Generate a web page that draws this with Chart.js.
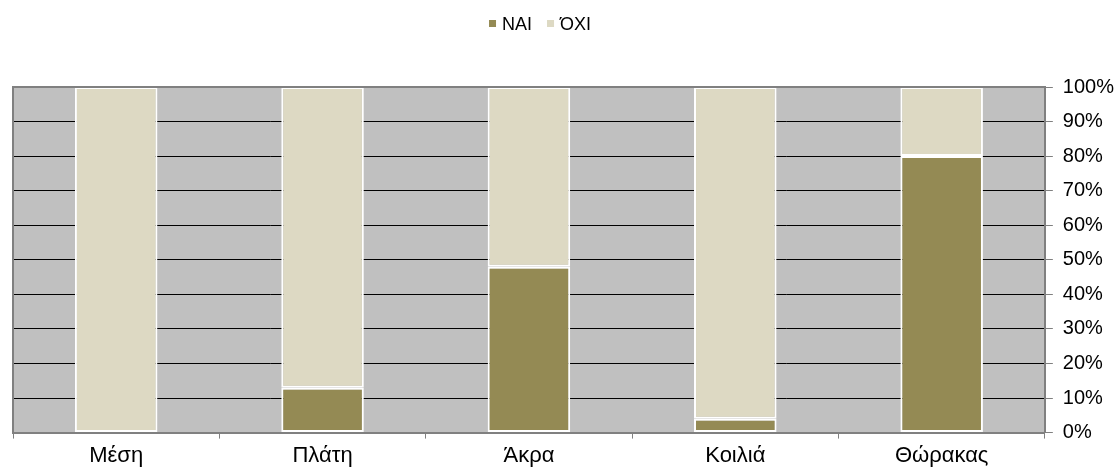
<!DOCTYPE html>
<html>
<head>
<meta charset="utf-8">
<script src="https://cdn.jsdelivr.net/npm/chart.js@4.4.0/dist/chart.umd.min.js"></script>
<style>
html,body{margin:0;padding:0;background:#fff;}
#wrap{width:1116px;height:467px;position:relative;}
</style>
</head>
<body>
<div id="wrap"><canvas id="c" width="1116" height="467"></canvas></div>
<script>
const categories = ['Μέση', 'Πλάτη', 'Άκρα', 'Κοιλιά', 'Θώρακας'];
const naiValues = [0, 13, 48, 4, 80];
const oxiValues = [100, 87, 52, 96, 20];
const seriesNames = ['ΝΑΙ', 'ΌΧΙ'];
const yTicks = [0, 10, 20, 30, 40, 50, 60, 70, 80, 90, 100];

const FAMILY = 'Arial, "Liberation Sans", sans-serif';

const plotBg = {
  id: 'plotBg',
  beforeDraw(chart) {
    const {ctx, chartArea: a} = chart;
    ctx.save();
    ctx.fillStyle = '#C0C0C0';
    ctx.fillRect(a.left, a.top, a.right - a.left, a.bottom - a.top);
    ctx.restore();
  },
  afterDatasetsDraw(chart) {
    const {ctx, chartArea: a} = chart;
    ctx.save();
    ctx.strokeStyle = '#808080';
    ctx.lineWidth = 2;
    ctx.beginPath();
    ctx.moveTo(a.left, a.bottom);
    ctx.lineTo(a.left, a.top);
    ctx.lineTo(a.right, a.top);
    ctx.stroke();
    ctx.restore();
  }
};

// Custom compact legend (Excel style)
const customLegend = {
  id: 'customLegend',
  afterDraw(chart) {
    const ctx = chart.ctx;
    ctx.save();
    ctx.font = '18px ' + FAMILY;
    ctx.textBaseline = 'alphabetic';
    ctx.textAlign = 'left';
    const box = 7, gap = 6, itemGap = 15;
    const items = chart.data.datasets.map(d => ({label: d.label, color: d.backgroundColor, w: ctx.measureText(d.label).width}));
    const total = items.reduce((s, it) => s + box + gap + it.w, 0) + itemGap * (items.length - 1);
    let x = 540 - total / 2;
    const baseline = 30;
    items.forEach(it => {
      ctx.fillStyle = it.color;
      ctx.fillRect(x, baseline - 10, box, box);
      ctx.fillStyle = '#000';
      ctx.fillText(it.label, x + box + gap, baseline);
      x += box + gap + it.w + itemGap;
    });
    ctx.restore();
  }
};

new Chart(document.getElementById('c'), {
  type: 'bar',
  data: {
    labels: categories,
    datasets: [
      {label: seriesNames[0], data: naiValues, backgroundColor: '#948A54', borderColor: '#FFFFFF', borderWidth: 2, borderSkipped: false},
      {label: seriesNames[1], data: oxiValues, backgroundColor: '#DDD9C3', borderColor: '#FFFFFF', borderWidth: 2, borderSkipped: false}
    ]
  },
  options: {
    responsive: false,
    animation: false,
    layout: {padding: {left: 13, right: -8, top: 87, bottom: -6}},
    datasets: {bar: {categoryPercentage: 0.4, barPercentage: 1.0}},
    plugins: {
      legend: {display: false},
      tooltip: {enabled: false}
    },
    scales: {
      x: {
        stacked: true,
        grid: {offset: true, drawOnChartArea: false, drawTicks: true, tickLength: 6, color: '#808080', lineWidth: 1},
        border: {display: true, color: '#808080', width: 2},
        ticks: {font: {family: FAMILY, size: 22}, color: '#000', padding: 4, maxRotation: 0}
      },
      y: {
        stacked: true,
        position: 'right',
        min: 0, max: 100,
        afterBuildTicks(scale) { scale.ticks = yTicks.map(v => ({value: v})); },
        grid: {color: '#000', lineWidth: 1, drawTicks: true, tickLength: 8, tickColor: '#808080'},
        border: {display: true, color: '#808080', width: 2},
        ticks: {font: {family: FAMILY, size: 20}, color: '#000', padding: 10, callback: v => v + '%'}
      }
    }
  },
  plugins: [plotBg, customLegend]
});
</script>
</body>
</html>
